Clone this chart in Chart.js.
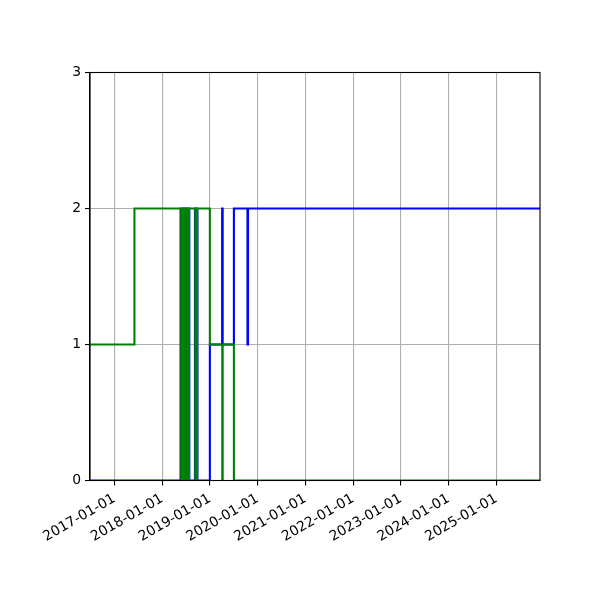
<!DOCTYPE html>
<html>
<head>
<meta charset="utf-8">
<script src="https://cdn.jsdelivr.net/npm/chart.js@4"></script>
<style>
	html, body { margin: 0; padding: 0; background: #ffffff; }
	#wrap { width: 600px; height: 600px; }
</style>
</head>
<body>
<div id="wrap"><canvas id="chart" width="600" height="600"></canvas></div>
<script>
// axis limits
const xStart = "2016-06-28";
const xEnd = "2025-12-01";
const yTicks = [0, 1, 2, 3];
const xTickLabels = [
	"2017-01-01", "2018-01-01", "2019-01-01", "2020-01-01", "2021-01-01",
	"2022-01-01", "2023-01-01", "2024-01-01", "2025-01-01"
];

// green series: value holds from each date until the next one
const greenDates = [
	"2016-06-28", "2017-06-03",
	"2018-05-27", "2018-05-30", "2018-06-02", "2018-06-05", "2018-06-08", "2018-06-11",
	"2018-06-14", "2018-06-17", "2018-06-20", "2018-06-23", "2018-06-26", "2018-06-29",
	"2018-07-02", "2018-07-05", "2018-07-08", "2018-07-11", "2018-07-14", "2018-07-17",
	"2018-07-20", "2018-07-25",
	"2018-09-12", "2018-09-25",
	"2019-01-01", "2019-04-06", "2019-04-09", "2019-07-04"
];
const greenValues = [
	1, 2,
	0, 2, 0, 2, 0, 2,
	0, 2, 0, 2, 0, 2,
	0, 2, 0, 2, 0, 2,
	0, 2,
	0, 2,
	1, 0, 1, 0
];

// blue series
const blueDates = [
	"2016-06-28", "2018-05-22", "2018-07-28",
	"2018-09-09", "2018-09-28",
	"2019-01-01", "2019-04-05", "2019-04-09", "2019-07-04",
	"2019-10-16", "2019-10-20"
];
const blueValues = [
	0, 2, 0,
	2, 0,
	1, 2, 1, 2,
	1, 2
];

function toTime(dateString) {
	const parts = dateString.split("-").map(Number);
	return Date.UTC(parts[0], parts[1] - 1, parts[2]);
}

function formatDate(time) {
	const d = new Date(time);
	const month = String(d.getUTCMonth() + 1).padStart(2, "0");
	const day = String(d.getUTCDate()).padStart(2, "0");
	return `${d.getUTCFullYear()}-${month}-${day}`;
}

function toPoints(dates, values) {
	const points = dates.map((date, i) => {
		return {
			x: toTime(date),
			y: values[i]
		};
	});
	// carry the last value to the right edge
	points.push({ x: toTime(xEnd), y: values[values.length - 1] });
	return points;
}

const font = {
	family: "'DejaVu Sans', sans-serif",
	size: 13.9
};

const framePlugin = {
	id: "frame",
	afterDatasetsDraw(chart) {
		const area = chart.chartArea;
		const ctx = chart.ctx;
		ctx.save();
		ctx.strokeStyle = "#000000";
		ctx.lineWidth = 1.1;
		ctx.strokeRect(area.left, area.top, area.right - area.left, area.bottom - area.top);
		ctx.restore();
	}
};

const context = document.getElementById("chart").getContext("2d");
const chart = new Chart(context, {
	type: "line",
	data: {
		datasets: [
			{
				label: "green",
				data: toPoints(greenDates, greenValues),
				borderColor: "#008000",
				borderWidth: 2.1,
				stepped: true,
				pointRadius: 0,
				fill: false,
				order: 1
			},
			{
				label: "blue",
				data: toPoints(blueDates, blueValues),
				borderColor: "#0000ff",
				borderWidth: 2.1,
				stepped: true,
				pointRadius: 0,
				fill: false,
				order: 2
			}
		]
	},
	options: {
		responsive: false,
		animation: false,
		parsing: false,
		layout: {
			padding: { left: 0, top: 72.5, right: 60, bottom: 0 }
		},
		plugins: {
			legend: { display: false },
			tooltip: { enabled: false }
		},
		scales: {
			x: {
				type: "linear",
				min: toTime(xStart),
				max: toTime(xEnd),
				afterBuildTicks: scale => {
					scale.ticks = xTickLabels.map(label => ({ value: toTime(label) }));
				},
				afterFit: scale => {
					scale.height = 119.5;
				},
				ticks: {
					color: "#000000",
					font: font,
					minRotation: 30,
					maxRotation: 30,
					padding: 5,
					autoSkip: false,
					callback: value => formatDate(value)
				},
				grid: {
					color: "#b0b0b0",
					lineWidth: 1.1,
					tickColor: "#000000",
					tickLength: 5
				},
				border: {
					color: "#000000",
					width: 1.1
				}
			},
			y: {
				type: "linear",
				min: yTicks[0],
				max: yTicks[yTicks.length - 1],
				afterBuildTicks: scale => {
					scale.ticks = yTicks.map(v => ({ value: v }));
				},
				afterFit: scale => {
					scale.width = 90;
				},
				ticks: {
					color: "#000000",
					font: font,
					padding: 4,
					callback: value => String(value)
				},
				grid: {
					color: "#b0b0b0",
					lineWidth: 1.1,
					tickColor: "#000000",
					tickLength: 5
				},
				border: {
					color: "#000000",
					width: 1.1
				}
			}
		}
	},
	plugins: [framePlugin]
});
</script>
</body>
</html>
